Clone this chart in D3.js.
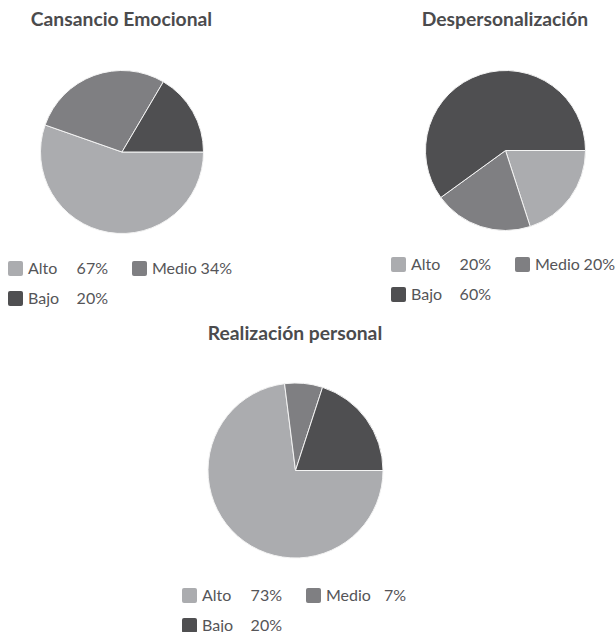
<!DOCTYPE html>
<html>
<head>
<meta charset="utf-8">
<script src="https://cdn.jsdelivr.net/npm/d3@7"></script>
<style>
  html, body { margin: 0; padding: 0; background: #fff; }
  svg { display: block; font-family: Lato, "Noto Sans", sans-serif; }
</style>
</head>
<body>
<svg id="chart" width="616" height="632"></svg>
<script>
// Levels shared by all three dimensions
const levels = ["Alto", "Medio", "Bajo"];
const levelColors = ["#abacaf", "#7f7f82", "#4f4f51"];

// Percentages for each burnout dimension
const cansancioValues = [67, 34, 20];
const despersonalizacionValues = [20, 20, 60];
const realizacionValues = [73, 7, 20];

const titles = ["Cansancio Emocional", "Despersonalización", "Realización personal"];

// Layout of each panel: title position, pie centre/radius, legend origin
const panels = [
  { title: titles[0], values: cansancioValues,
    tx: 121.5, ty: 26, cx: 122, cy: 152, r: 81.5, lx: 8, ly: 261 },
  { title: titles[1], values: despersonalizacionValues,
    tx: 505, ty: 26, cx: 505.5, cy: 150.5, r: 80, lx: 391, ly: 257 },
  { title: titles[2], values: realizacionValues,
    tx: 295, ty: 340, cx: 295.5, cy: 470.5, r: 87.5, lx: 182, ly: 588 }
];

const svg = d3.select("#chart");
const color = d3.scaleOrdinal().domain(levels).range(levelColors);

// Slices start at 3 o'clock and run clockwise, in legend order
const pie = d3.pie()
  .sort(null)
  .value(d => d.value)
  .startAngle(Math.PI / 2)
  .endAngle(Math.PI / 2 + 2 * Math.PI);

panels.forEach(p => {
  const g = svg.append("g");
  const data = levels.map((k, i) => ({ key: k, value: p.values[i] }));

  g.append("text")
    .attr("x", p.tx).attr("y", p.ty)
    .attr("text-anchor", "middle")
    .attr("font-size", 19.3).attr("font-weight", 700)
    .attr("fill", "#4b4b4d")
    .text(p.title);

  const arc = d3.arc().innerRadius(0).outerRadius(p.r);
  g.append("g")
    .attr("transform", `translate(${p.cx},${p.cy})`)
    .selectAll("path")
    .data(pie(data))
    .join("path")
    .attr("d", arc)
    .attr("fill", d => color(d.data.key))
    .attr("stroke", "#f4f4f4")
    .attr("stroke-width", 1);

  // Two-column legend: swatch, label, right-aligned percentage
  const colW = 124, rowH = 30, sw = 15;
  const items = g.append("g").selectAll("g")
    .data(data)
    .join("g")
    .attr("transform", (d, i) =>
      `translate(${p.lx + (i % 2) * colW},${p.ly + Math.floor(i / 2) * rowH})`);

  items.append("rect")
    .attr("width", sw).attr("height", sw)
    .attr("rx", 2)
    .attr("fill", d => color(d.key));

  items.append("text")
    .attr("x", 20).attr("y", 13)
    .attr("font-size", 16)
    .attr("fill", "#555558")
    .text(d => d.key);

  items.append("text")
    .attr("x", 100).attr("y", 13)
    .attr("text-anchor", "end")
    .attr("font-size", 16)
    .attr("fill", "#555558")
    .text(d => d.value + "%");
});
</script>
</body>
</html>
